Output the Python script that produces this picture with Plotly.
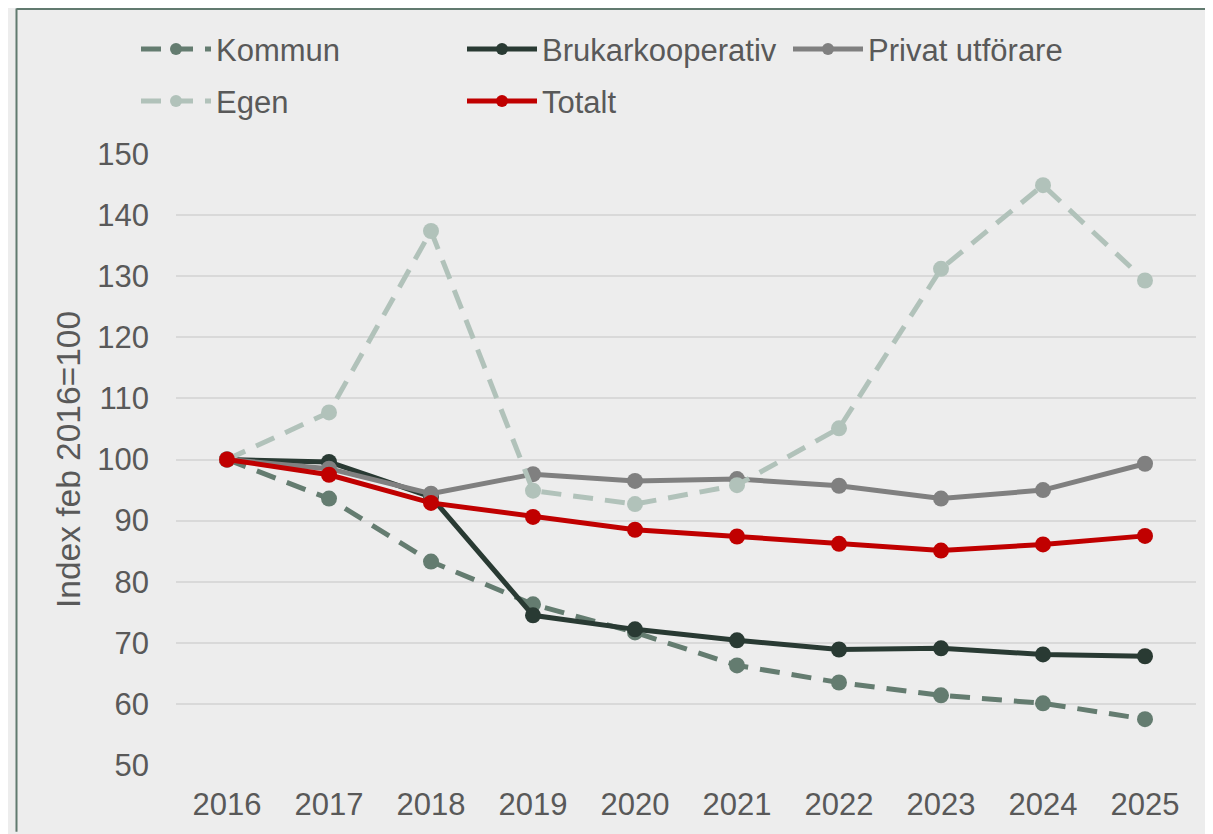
import plotly.graph_objects as go

years = ["2016", "2017", "2018", "2019", "2020", "2021", "2022", "2023", "2024", "2025"]
kommun = [100, 93.6, 83.3, 76.3, 71.7, 66.3, 63.5, 61.4, 60.1, 57.5]
brukarkooperativ = [100, 99.6, 93.9, 74.5, 72.2, 70.4, 68.9, 69.1, 68.1, 67.8]
privat = [100, 98.5, 94.4, 97.6, 96.5, 96.8, 95.7, 93.6, 95.0, 99.3]
egen = [100, 107.7, 137.4, 94.9, 92.7, 95.8, 105.1, 131.2, 144.9, 129.3]
totalt = [100, 97.5, 92.9, 90.6, 88.5, 87.4, 86.2, 85.1, 86.1, 87.5]
y_title = "Index feb 2016=100"

# page has an 8px body margin, so figure pixel = page pixel - 8
OFF = 8
W, H = 1213 - OFF, 834 - OFF
L, R, T, B = 176 - OFF, 1196 - OFF, 154 - OFF, 767 - OFF

series = [
    ("Kommun", kommun, "#647C70", "20px,12px", "legend"),
    ("Brukarkooperativ", brukarkooperativ, "#293A33", "solid", "legend"),
    ("Privat utförare", privat, "#808080", "solid", "legend"),
    ("Egen", egen, "#B1C2BA", "20px,12px", "legend2"),
    ("Totalt", totalt, "#C00000", "solid", "legend2"),
]

fig = go.Figure()
for name, vals, color, dash, leg in series:
    fig.add_trace(go.Scatter(
        x=years, y=vals, name=name, mode="lines+markers",
        line=dict(color=color, width=5, dash=dash),
        marker=dict(color=color, size=16),
        cliponaxis=False, legend=leg,
    ))

def px_x(p):
    return (p - OFF - L) / (R - L)

def px_y(p):
    return (B - (p - OFF)) / (B - T)

frame_color = "#617A6F"
shapes = [
    dict(type="line", xref="paper", yref="paper", x0=px_x(16.5), x1=px_x(16.5), y0=px_y(8), y1=px_y(834),
         line=dict(color=frame_color, width=2)),
    dict(type="line", xref="paper", yref="paper", x0=px_x(16.5), x1=px_x(1213), y0=px_y(8.5), y1=px_y(8.5),
         line=dict(color=frame_color, width=2)),
]

font_family = "Liberation Sans, Arial, sans-serif"
legend_common = dict(
    orientation="h", xanchor="left", yanchor="top",
    entrywidth=241, entrywidthmode="pixels", itemwidth=70,
    bgcolor="rgba(0,0,0,0)",
    font=dict(family=font_family, size=31, color="#595959"),
    itemsizing="constant",
)

fig.update_layout(
    width=W, height=H,
    margin=dict(l=L, r=W - R, t=T, b=H - B, pad=0),
    paper_bgcolor="#EDEDED", plot_bgcolor="#EDEDED",
    font=dict(family=font_family, size=31, color="#595959"),
    showlegend=True,
    legend=dict(**legend_common, x=px_x(136), y=px_y(22)),
    legend2=dict(**legend_common, x=px_x(136), y=px_y(74)),
    xaxis=dict(
        type="category", range=[-0.5, 9.5], showgrid=False, zeroline=False,
        showline=False, ticks="", tickfont=dict(size=31, color="#595959"),
        ticklabelstandoff=18, fixedrange=True,
    ),
    yaxis=dict(
        range=[50, 150], dtick=10, tick0=50, showgrid=True, gridcolor="#D9D9D9", gridwidth=2,
        zeroline=False, showline=False, ticks="",
        tickfont=dict(size=31, color="#595959"), ticklabelstandoff=26,
        title=dict(text=y_title, font=dict(size=33.5, color="#595959"), standoff=6),
    ),
    shapes=shapes,
)

fig.write_html("out.html")
